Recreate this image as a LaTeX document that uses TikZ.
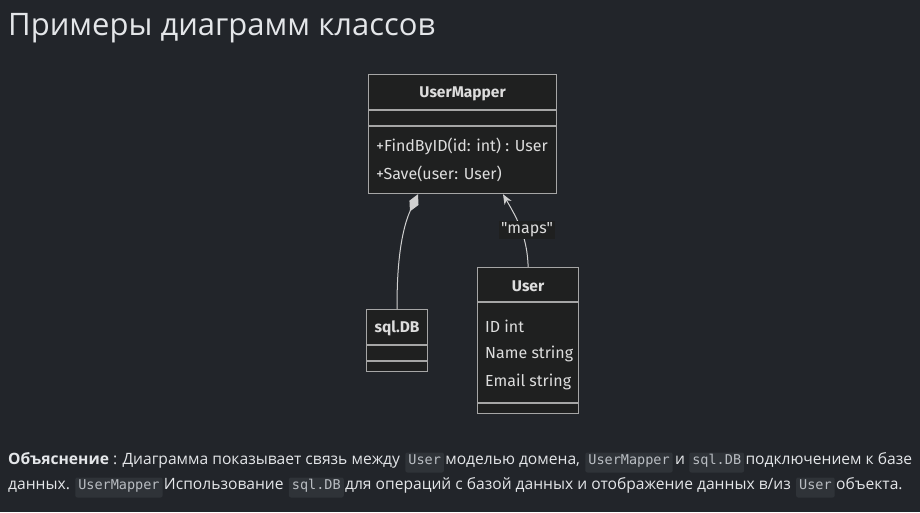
\documentclass[tikz,border=0pt]{standalone}
\usepackage{fontspec}
\setmainfont{Open Sans}
\newfontfamily\classfont{Fira Sans}
\newfontfamily\codefont{DejaVu Sans Mono}
\usetikzlibrary{arrows.meta,calc}
\definecolor{bg}{HTML}{22252A}
\definecolor{boxfill}{HTML}{1F2020}
\definecolor{boxline}{HTML}{A6A6A6}
\definecolor{boxtext}{HTML}{DDDDDD}
\definecolor{edge}{HTML}{D0D0D0}
\definecolor{bodytext}{HTML}{E4E6E9}
\definecolor{codebg}{HTML}{2F3338}
\definecolor{codefg}{HTML}{B9BDC2}
\tikzset{
  classbox/.style={draw=boxline, fill=boxfill, line width=1.2pt, anchor=north west, inner sep=0pt},
  sepline/.style={draw=boxline, line width=1.2pt},
  ctitle/.style={text=boxtext, font=\classfont\bfseries\fontsize{15.5}{18}\selectfont, inner sep=0pt},
  cmember/.style={text=boxtext, font=\classfont\fontsize{16}{18}\selectfont, inner sep=0pt, anchor=west},
  edgeline/.style={draw=edge, line width=1pt},
  elabel/.style={fill=boxfill, text=boxtext, font=\classfont\fontsize{16}{18}\selectfont, inner xsep=2pt, inner ysep=2pt},
  bt/.style={text=bodytext, font=\fontsize{15.6}{18}\selectfont, inner sep=0pt, anchor=base west},
  codebox/.style={fill=codebg, text=codefg, font=\codefont\fontsize{13.5}{16}\selectfont, inner xsep=3pt, inner ysep=0pt, text height=11.5pt, text depth=8.5pt, anchor=base west, rounded corners=2pt},
}
\begin{document}
\begin{tikzpicture}[x=1pt,y=-1pt]
\path[fill=bg, use as bounding box] (0,0) rectangle (920,512);
% title
\node[text=bodytext, font=\fontsize{31}{36}\selectfont, inner sep=0pt, anchor=base west] (title) at (8,35) {Примеры диаграмм классов};
% UserMapper
\node[classbox, minimum width=188pt, minimum height=119pt] (um) at (368,74) {};
\draw[sepline] ([yshift=-36pt]um.north west) -- ([yshift=-36pt]um.north east);
\draw[sepline] ([yshift=-52pt]um.north west) -- ([yshift=-52pt]um.north east);
\node[ctitle] (umt) at ([yshift=-20pt]um.north) {UserMapper};
\node[cmember] (um1) at ([xshift=8pt,yshift=-72pt]um.north west) {+FindByID(id: int) : User};
\node[cmember] (um2) at ([xshift=8pt,yshift=-100pt]um.north west) {+Save(user: User)};
% sql.DB
\node[classbox, minimum width=61pt, minimum height=62pt] (db) at (366,309) {};
\draw[sepline] ([yshift=-36pt]db.north west) -- ([yshift=-36pt]db.north east);
\draw[sepline] ([yshift=-52pt]db.north west) -- ([yshift=-52pt]db.north east);
\node[ctitle] (dbt) at ([yshift=-19pt]db.north) {sql.DB};
% User
\node[classbox, minimum width=101pt, minimum height=146pt] (us) at (477,267) {};
\draw[sepline] ([yshift=-35pt]us.north west) -- ([yshift=-35pt]us.north east);
\draw[sepline] ([yshift=-136pt]us.north west) -- ([yshift=-136pt]us.north east);
\node[ctitle] (ust) at ([yshift=-19pt]us.north) {User};
\node[cmember] (us1) at ([xshift=8pt,yshift=-59pt]us.north west) {ID int};
\node[cmember] (us2) at ([xshift=8pt,yshift=-87pt]us.north west) {Name string};
\node[cmember] (us3) at ([xshift=8pt,yshift=-115pt]us.north west) {Email string};
% edges
\draw[edgeline, {Diamond[length=19pt, width=10pt, fill=edge]}-] ([xshift=50pt]um.south west) .. controls (405,222) and (396.5,250) .. (db.north);
\draw[edgeline, -{Stealth[length=10pt, width=8pt, inset=3pt, fill=edge]}] (us.north) .. controls (527.5,235) and (515,215) .. ([xshift=135pt]um.south west);
\node[elabel] (maps) at (527,230) {"maps"};
% explanation line 1
\node[bt] (t1) at (8,464) {\textbf{Объяснение} : Диаграмма показывает связь между};
\node[codebox] (c1) at ([xshift=5pt]t1.base east) {User};
\node[bt] (t2) at ([xshift=1pt]c1.base east) {моделью домена,};
\node[codebox] (c2) at ([xshift=5pt]t2.base east) {UserMapper};
\node[bt] (t3) at ([xshift=2pt]c2.base east) {и};
\node[codebox] (c3) at ([xshift=4pt]t3.base east) {sql.DB};
\node[bt] (t4) at ([xshift=1pt]c3.base east) {подключением к базе};
% line 2
\node[bt] (t5) at (8,489) {данных.};
\node[codebox] (c4) at ([xshift=5pt]t5.base east) {UserMapper};
\node[bt] (t6) at ([xshift=1pt]c4.base east) {Использование};
\node[codebox] (c5) at ([xshift=5pt]t6.base east) {sql.DB};
\node[bt] (t7) at ([xshift=1pt]c5.base east) {для операций с базой данных и отображение данных в/из};
\node[codebox] (c6) at ([xshift=5pt]t7.base east) {User};
\node[bt] (t8) at ([xshift=1pt]c6.base east) {объекта.};
\end{tikzpicture}
\end{document}
